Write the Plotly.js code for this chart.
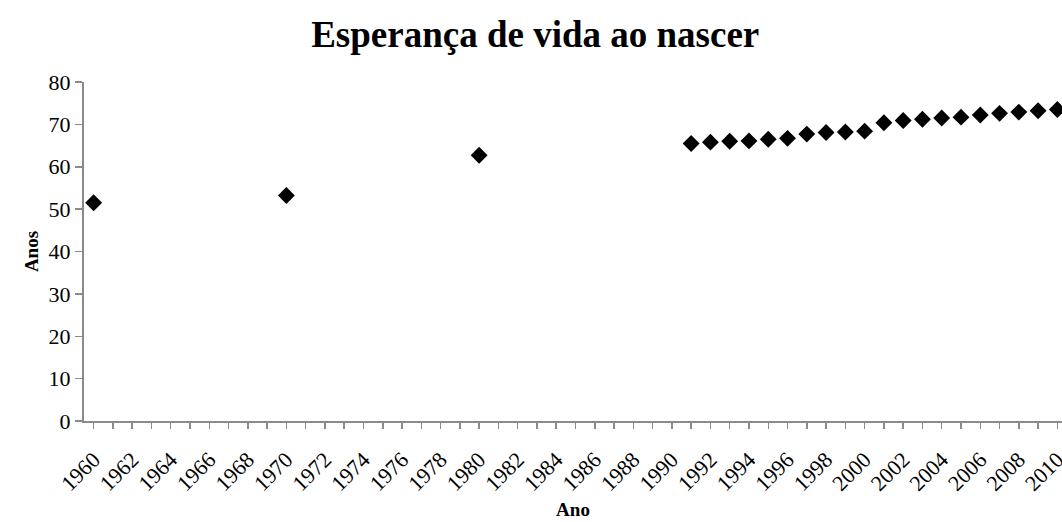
<!DOCTYPE html>
<html>
<head>
<meta charset="utf-8">
<script src="https://cdn.plot.ly/plotly-3.0.1.min.js"></script>
<style>html,body{margin:0;padding:0;background:#fff;overflow:hidden}</style>
</head>
<body>
<div id="chart" style="width:1062px;height:522px"></div>
<script>
const years = [1960, 1970, 1980, 1991, 1992, 1993, 1994, 1995, 1996, 1997, 1998, 1999, 2000, 2001, 2002, 2003, 2004, 2005, 2006, 2007, 2008, 2009, 2010];
const lifeExpectancy = [51.5, 53.2, 62.7, 65.5, 65.8, 66.0, 66.1, 66.5, 66.7, 67.7, 68.1, 68.2, 68.4, 70.4, 70.9, 71.2, 71.5, 71.7, 72.2, 72.6, 72.9, 73.2, 73.5];
const chartTitle = "Esperança de vida ao nascer";
const xTitle = "Ano";
const yTitle = "Anos";

const font = "Liberation Serif, Times New Roman, serif";
const axisColor = "#8a8a8a";

Plotly.newPlot("chart", [{
  x: years, y: lifeExpectancy, type: "scatter", mode: "markers",
  marker: {symbol: "diamond", size: 13, color: "#000", line: {width: 0}},
  cliponaxis: false, hoverinfo: "x+y"
}], {
  width: 1062, height: 522,
  margin: {l: 84, r: 0, t: 82, b: 101},
  paper_bgcolor: "#fff", plot_bgcolor: "#fff",
  showlegend: false,
  title: {text: "<b>" + chartTitle + "</b>", font: {family: font, size: 37, color: "#000"}, x: 0.504, xanchor: "center", y: 0.935, yanchor: "middle"},
  xaxis: {
    range: [1959.5, 2010.24], dtick: 2, tick0: 1960, tickangle: -45,
    ticks: "outside", ticklen: 6, tickcolor: axisColor, tickwidth: 1.5,
    minor: {dtick: 1, tick0: 1960, ticks: "outside", ticklen: 6, tickcolor: axisColor, tickwidth: 1.5},
    showline: true, linecolor: axisColor, linewidth: 2, showgrid: false, zeroline: false,
    ticklabeloverflow: "allow", ticklabelstandoff: 9,
    tickfont: {family: font, size: 22, color: "#000"},
    title: {text: "<b>" + xTitle + "</b>", font: {family: font, size: 19, color: "#000"}, standoff: 8}
  },
  yaxis: {
    range: [0, 80], dtick: 10,
    ticks: "outside", ticklen: 7, tickcolor: axisColor, tickwidth: 1.5,
    showline: true, linecolor: axisColor, linewidth: 2, showgrid: false, zeroline: false,
    tickfont: {family: font, size: 22, color: "#000"},
    title: {text: "<b>" + yTitle + "</b>", font: {family: font, size: 19, color: "#000"}, standoff: 5}
  }
}, {staticPlot: true});
</script>
</body>
</html>
